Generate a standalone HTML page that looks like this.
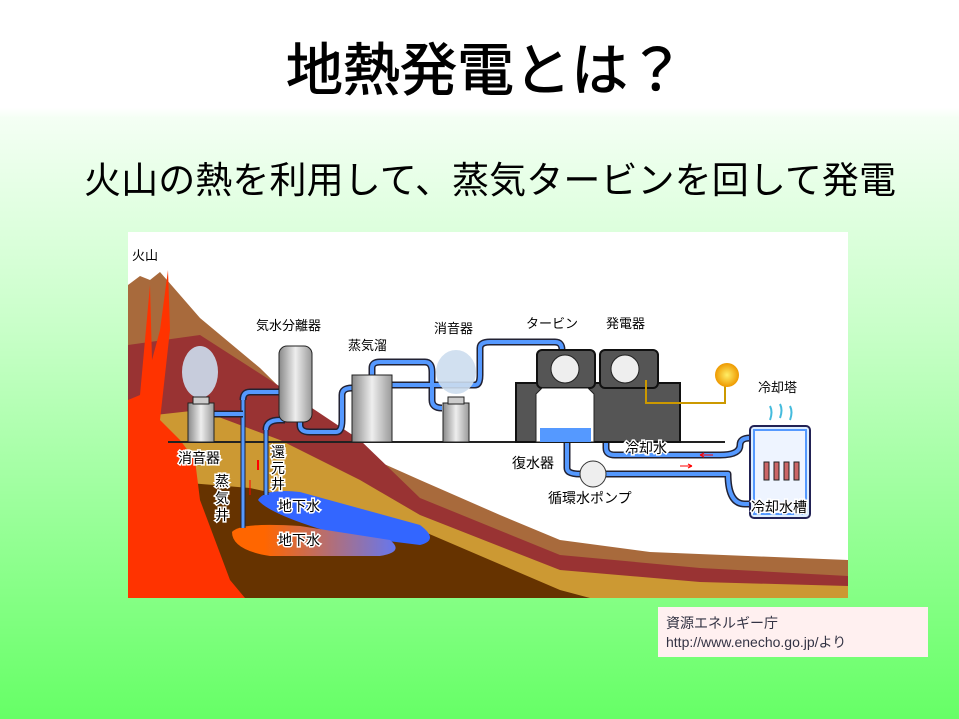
<!DOCTYPE html>
<html><head><meta charset="utf-8"><style>
html,body{margin:0;padding:0}
body{width:959px;height:719px;position:relative;overflow:hidden;font-family:"Liberation Sans","Noto Sans CJK JP",sans-serif;
background:linear-gradient(to bottom,#fff 0px,#fff 108px,#f4fff4 118px,#c8ffc8 330px,#66ff66 719px);}
.t{position:absolute;white-space:nowrap;color:#000}
</style></head><body>
<div class="t" style="left:286px;top:38px;font-size:57px;line-height:66px;-webkit-text-stroke:1px #000">地熱発電とは？</div>
<div class="t" style="left:84px;top:158px;font-size:37px;line-height:46px;letter-spacing:0.1px">火山の熱を利用して、蒸気タービンを回して発電</div>
<svg style="position:absolute;left:0;top:0" width="959" height="719" font-family="Liberation Sans,Noto Sans CJK JP,sans-serif">
<defs>
<linearGradient id="hw" x1="0" x2="1"><stop offset="0.2" stop-color="#ff6600"/><stop offset="1" stop-color="#6677ee"/></linearGradient>
<linearGradient id="cyl" x1="0" x2="1"><stop offset="0" stop-color="#888"/><stop offset="0.5" stop-color="#eee"/><stop offset="1" stop-color="#999"/></linearGradient>
<radialGradient id="bulb"><stop offset="0" stop-color="#ffee66"/><stop offset="1" stop-color="#ee9900"/></radialGradient>
</defs>
<rect x="128" y="232" width="720" height="366" fill="#fff"/>
<polygon fill="#a86a3c" points="128,285 140,276 150,280 160,272 200,318 260,368 335,442 420,480 500,515 560,540 650,552 848,560 848,598 128,598"/>
<polygon fill="#993333" points="128,345 200,335 270,380 360,440 420,498 560,555 700,568 848,576 848,598 128,598"/>
<polygon fill="#cc9933" points="128,418 200,410 280,440 360,480 420,515 560,570 700,582 848,586 848,598 128,598"/>
<polygon fill="#663300" points="128,478 250,488 350,510 420,530 560,590 590,598 128,598"/>
<path fill="#ff3300" d="M128,400 L140,395 L150,285 L152,360 L160,330 L168,270 L170,330 L160,420 L180,440 L195,460 L200,500 L230,580 L245,598 L128,598 Z M168,480 L178,470 L185,530 L175,560 Z"/>
<line x1="168" y1="442" x2="725" y2="442" stroke="#222" stroke-width="2"/>
<path d="M258,500 Q265,488 300,492 L420,525 Q440,540 420,545 L340,535 Q270,515 258,500 Z" fill="#3366ff"/>
<path d="M232,532 Q240,522 300,526 L390,540 Q405,552 380,556 L270,556 Q232,550 232,532 Z" fill="url(#hw)"/>
<line x1="243" y1="400" x2="243" y2="528" stroke="#223" stroke-width="5"/><line x1="243" y1="400" x2="243" y2="528" stroke="#5599ff" stroke-width="3"/>
<line x1="266" y1="430" x2="266" y2="495" stroke="#223" stroke-width="5"/><line x1="266" y1="430" x2="266" y2="495" stroke="#5599ff" stroke-width="3"/>
<g fill="none" stroke-linejoin="round">
<g stroke="#223" stroke-width="7">
<path d="M214,414 L243,414 M243,400 Q243,392 250,392 L282,392"/>
<path d="M266,430 Q266,420 280,420 L285,420"/>
<path d="M300,372 L300,425 Q300,432 310,432 L336,432 Q342,432 342,420 L342,395 Q342,388 352,388"/>
<path d="M372,375 L372,368 Q372,362 380,362 L425,362 Q432,362 432,372 L432,400 Q432,408 442,408"/>
<path d="M392,385 L475,385 Q480,385 480,375 L480,348 Q480,342 490,342 L555,342 Q562,342 562,350"/>
<path d="M550,400 L600,400 Q606,400 606,410 L606,448 Q606,455 615,455 L720,455"/>
<path d="M567,442 L567,468 Q567,474 580,474 L720,474"/>
<path d="M720,455 Q740,455 740,445 Q740,438 750,438 L805,438"/>
<path d="M720,474 L728,474 Q728,504 745,504 L755,504"/>
</g>
<g stroke="#5599ff" stroke-width="4">
<path d="M214,414 L243,414 M243,400 Q243,392 250,392 L282,392"/>
<path d="M266,430 Q266,420 280,420 L285,420"/>
<path d="M300,372 L300,425 Q300,432 310,432 L336,432 Q342,432 342,420 L342,395 Q342,388 352,388"/>
<path d="M372,375 L372,368 Q372,362 380,362 L425,362 Q432,362 432,372 L432,400 Q432,408 442,408"/>
<path d="M392,385 L475,385 Q480,385 480,375 L480,348 Q480,342 490,342 L555,342 Q562,342 562,350"/>
<path d="M550,400 L600,400 Q606,400 606,410 L606,448 Q606,455 615,455 L720,455"/>
<path d="M567,442 L567,468 Q567,474 580,474 L720,474"/>
<path d="M720,455 Q740,455 740,445 Q740,438 750,438 L805,438"/>
<path d="M720,474 L728,474 Q728,504 745,504 L755,504"/>
</g>
</g>
<ellipse cx="200" cy="372" rx="18" ry="26" fill="#cde" opacity="0.9"/>
<ellipse cx="456" cy="372" rx="20" ry="22" fill="#cde" opacity="0.9"/>
<rect x="188" y="403" width="26" height="39" fill="url(#cyl)" stroke="#222"/><rect x="193" y="397" width="16" height="7" fill="#ccc" stroke="#222"/>
<rect x="443" y="403" width="26" height="39" fill="url(#cyl)" stroke="#222"/><rect x="448" y="397" width="16" height="7" fill="#ccc" stroke="#222"/>
<rect x="279" y="346" width="33" height="76" rx="8" fill="url(#cyl)" stroke="#222"/>
<rect x="352" y="375" width="40" height="67" fill="url(#cyl)" stroke="#222"/>
<rect x="516" y="383" width="164" height="59" fill="#555" stroke="#111" stroke-width="2"/>
<rect x="537" y="350" width="58" height="38" rx="5" fill="#555" stroke="#111" stroke-width="2"/>
<rect x="600" y="350" width="58" height="38" rx="5" fill="#555" stroke="#111" stroke-width="2"/>
<circle cx="565" cy="369" r="14" fill="#eee" stroke="#222"/><circle cx="625" cy="369" r="14" fill="#eee" stroke="#222"/>
<path d="M536,394 L542,388 L588,388 L594,394 L594,442 L536,442 Z" fill="#fff" stroke="#222"/>
<rect x="540" y="428" width="51" height="14" fill="#5599ff"/>
<path d="M646,380 L646,403 L725,403 L725,385" fill="none" stroke="#c90" stroke-width="2"/>
<circle cx="727" cy="375" r="12" fill="url(#bulb)"/>
<circle cx="593" cy="474" r="13" fill="#eee" stroke="#333"/>
<rect x="750" y="426" width="60" height="92" rx="4" fill="#ddeeff" stroke="#225" stroke-width="2"/>
<rect x="754" y="430" width="52" height="84" fill="#eef4ff" stroke="#5599ff" stroke-width="2"/>
<g fill="#c66" stroke="#222"><rect x="764" y="462" width="5" height="18"/><rect x="774" y="462" width="5" height="18"/><rect x="784" y="462" width="5" height="18"/><rect x="794" y="462" width="5" height="18"/></g>
<path d="M770,420 q3,-8 0,-14 M780,418 q3,-8 0,-14 M790,420 q3,-8 0,-14" stroke="#4bd" stroke-width="2" fill="none"/>
<path d="M700,455 L713,455 M700,455 l4,-2 M700,455 l4,2" stroke="red" fill="none"/>
<path d="M680,466 L692,466 M692,466 l-4,-2 M692,466 l-4,2" stroke="red" fill="none"/>
<line x1="258" y1="460" x2="258" y2="470" stroke="red" stroke-width="2"/><line x1="250" y1="495" x2="250" y2="480" stroke="red"/>
<g font-size="13" fill="#000">
<text x="132" y="260">火山</text>
<text x="256" y="330">気水分離器</text>
<text x="348" y="350">蒸気溜</text>
<text x="434" y="333">消音器</text>
<text x="526" y="328">タービン</text>
<text x="606" y="328">発電器</text>
<text x="758" y="392">冷却塔</text>
</g>
<g font-size="14" fill="#000" stroke="#fff" stroke-width="3" paint-order="stroke">
<text x="178" y="463">消音器</text>
<text x="215" y="486">蒸</text><text x="215" y="503">気</text><text x="215" y="520">井</text>
<text x="271" y="457">還</text><text x="271" y="473">元</text><text x="271" y="489">井</text>
<text x="278" y="511">地下水</text>
<text x="278" y="545">地下水</text>
<text x="625" y="453">冷却水</text>
<text x="512" y="468">復水器</text>
<text x="548" y="503">循環水ポンプ</text>
<text x="751" y="512">冷却水槽</text>
</g>
</svg>
<div style="position:absolute;left:658px;top:607px;width:270px;height:50px;background:#fff0f0"></div>
<div class="t" style="left:666px;top:614px;font-size:14px;line-height:19px;color:#334">資源エネルギー庁<br>http://www.enecho.go.jp/より</div>
</body></html>
